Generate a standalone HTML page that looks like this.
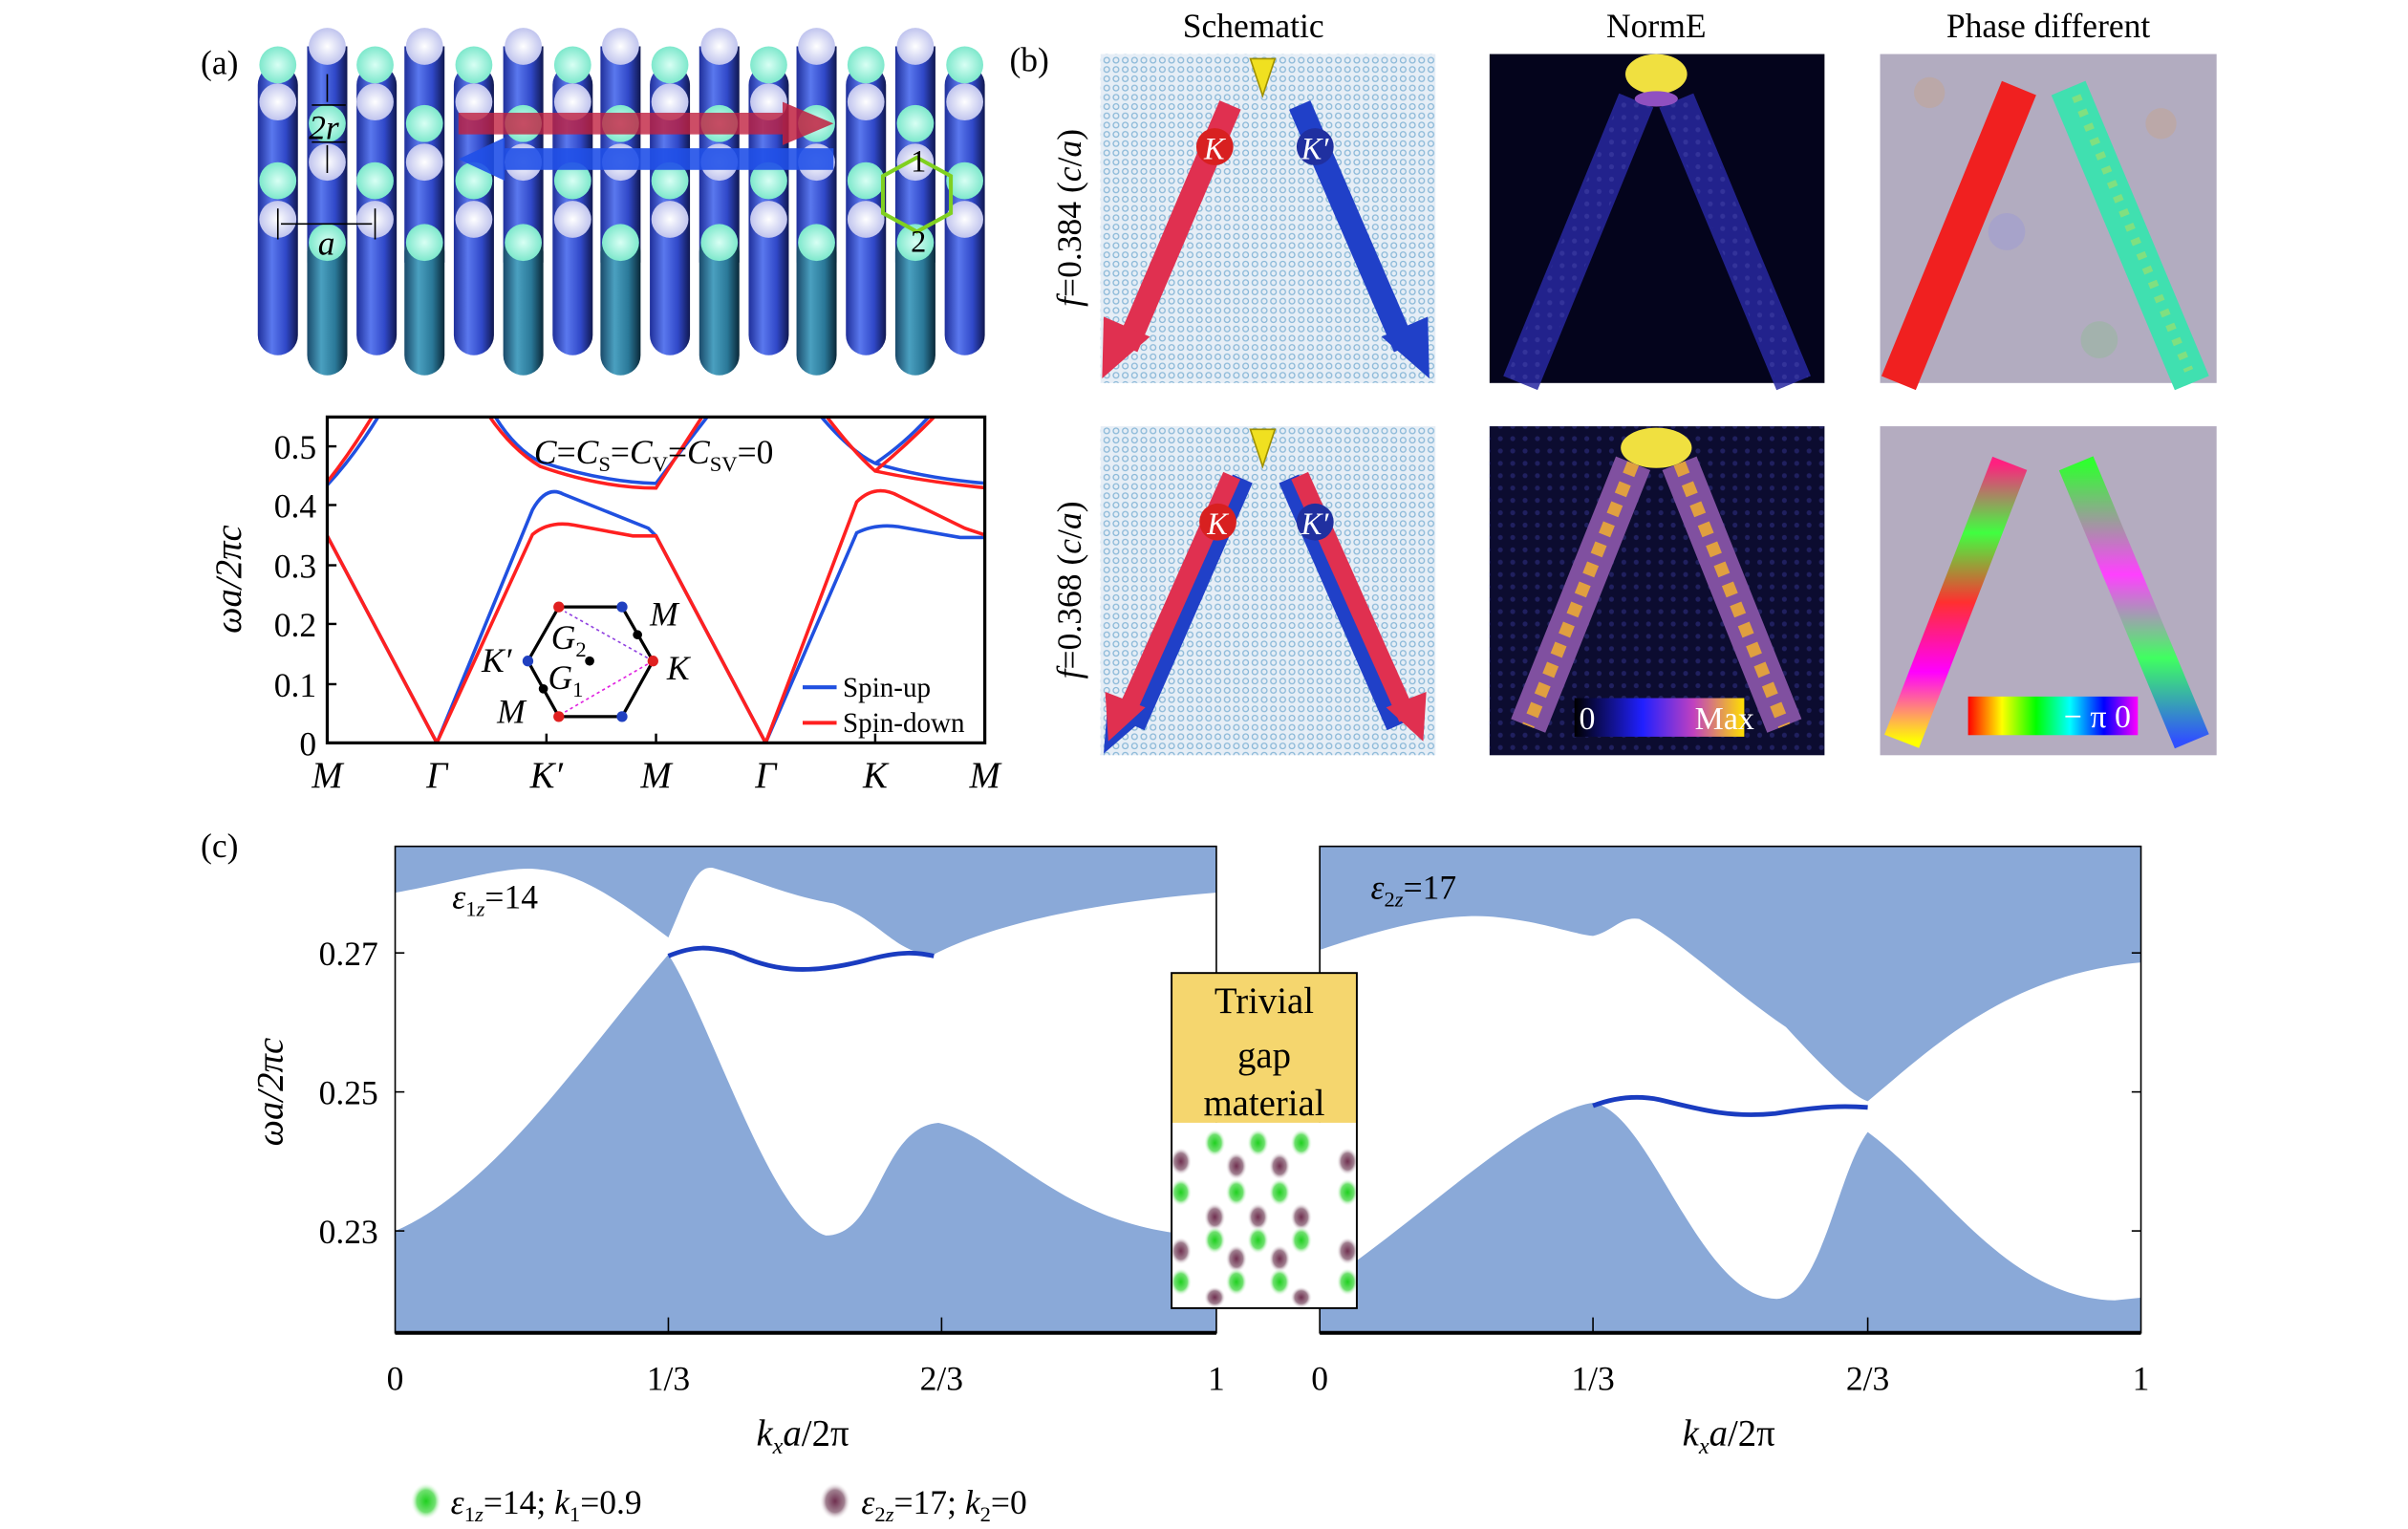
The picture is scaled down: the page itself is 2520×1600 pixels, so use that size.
<!DOCTYPE html>
<html><head><meta charset="utf-8"><style>html,body{margin:0;padding:0;background:#fff}svg{display:block}svg text{font-family:"Liberation Serif","DejaVu Serif",serif}</style></head><body>
<svg width="2520" height="1600" viewBox="0 0 1560 990" preserveAspectRatio="none" xmlns="http://www.w3.org/2000/svg" font-family="Liberation Serif, DejaVu Serif, serif">
<defs>
<linearGradient id="cyl" x1="0" x2="1"><stop offset="0" stop-color="#1f2f9a"/><stop offset="0.35" stop-color="#5a78ee"/><stop offset="0.7" stop-color="#3048c8"/><stop offset="1" stop-color="#101850"/></linearGradient>
<linearGradient id="cyl2" x1="0" x2="1"><stop offset="0" stop-color="#1a4a6a"/><stop offset="0.35" stop-color="#4aa0c0"/><stop offset="0.7" stop-color="#2a7898"/><stop offset="1" stop-color="#0a2838"/></linearGradient>
<radialGradient id="cy"><stop offset="0" stop-color="#d8fff4"/><stop offset="1" stop-color="#7ee8cc"/></radialGradient>
<radialGradient id="wh"><stop offset="0" stop-color="#ffffff"/><stop offset="1" stop-color="#c0c4ee"/></radialGradient>
<pattern id="lat" width="6" height="6" patternUnits="userSpaceOnUse"><rect width="6" height="6" fill="#e6eef6"/><circle cx="3" cy="3" r="1.8" fill="none" stroke="#8ab8d8" stroke-width="0.8"/></pattern>
<pattern id="dots" width="8" height="8" patternUnits="userSpaceOnUse"><circle cx="4" cy="4" r="1.6" fill="#3a3aa0" opacity="0.7"/></pattern>
<linearGradient id="ne" x1="0" x2="1"><stop offset="0" stop-color="#000"/><stop offset="0.4" stop-color="#2020ff"/><stop offset="0.7" stop-color="#c040c0"/><stop offset="1" stop-color="#ffe000"/></linearGradient>
<linearGradient id="ph" x1="0" x2="1"><stop offset="0" stop-color="#ff0000"/><stop offset="0.2" stop-color="#ffff00"/><stop offset="0.4" stop-color="#00ff00"/><stop offset="0.6" stop-color="#00ffff"/><stop offset="0.8" stop-color="#0000ff"/><stop offset="1" stop-color="#ff00ff"/></linearGradient>
<linearGradient id="rb" x1="0" y1="1" x2="0" y2="0"><stop offset="0" stop-color="#ffff00"/><stop offset="0.25" stop-color="#ff00ff"/><stop offset="0.5" stop-color="#ff3030"/><stop offset="0.75" stop-color="#40ff40"/><stop offset="1" stop-color="#ff2080"/></linearGradient>
<linearGradient id="rb2" x1="0" y1="1" x2="0" y2="0"><stop offset="0" stop-color="#3050ff"/><stop offset="0.3" stop-color="#40ff60"/><stop offset="0.6" stop-color="#ff40ff"/><stop offset="1" stop-color="#30ff30"/></linearGradient>
<radialGradient id="gd"><stop offset="0" stop-color="#20d020"/><stop offset="0.6" stop-color="#70e070"/><stop offset="1" stop-color="#fff" stop-opacity="0"/></radialGradient>
<radialGradient id="pd"><stop offset="0" stop-color="#703050"/><stop offset="0.6" stop-color="#a08090"/><stop offset="1" stop-color="#fff" stop-opacity="0"/></radialGradient>
</defs>

<!-- (a) cylinders -->
<text x="130" y="48" font-size="22">(a)</text>
<g>
<g fill="url(#cyl)">
<rect x="167" y="42" width="26" height="188" rx="13"/><rect x="231" y="42" width="26" height="188" rx="13"/><rect x="294" y="42" width="26" height="188" rx="13"/><rect x="358" y="42" width="26" height="188" rx="13"/><rect x="421" y="42" width="26" height="188" rx="13"/><rect x="485" y="42" width="26" height="188" rx="13"/><rect x="548" y="42" width="26" height="188" rx="13"/><rect x="612" y="42" width="26" height="188" rx="13"/>
<rect x="199" y="30" width="26" height="140"/><rect x="262" y="30" width="26" height="140"/><rect x="326" y="30" width="26" height="140"/><rect x="389" y="30" width="26" height="140"/><rect x="453" y="30" width="26" height="140"/><rect x="516" y="30" width="26" height="140"/><rect x="580" y="30" width="26" height="140"/>
</g>
<g fill="url(#cyl2)">
<rect x="199" y="150" width="26" height="93" rx="13"/><rect x="262" y="150" width="26" height="93" rx="13"/><rect x="326" y="150" width="26" height="93" rx="13"/><rect x="389" y="150" width="26" height="93" rx="13"/><rect x="453" y="150" width="26" height="93" rx="13"/><rect x="516" y="150" width="26" height="93" rx="13"/><rect x="580" y="150" width="26" height="93" rx="13"/>
</g>
<g fill="url(#cy)"><circle cx="180" cy="42" r="12"/><circle cx="243" cy="42" r="12"/><circle cx="307" cy="42" r="12"/><circle cx="371" cy="42" r="12"/><circle cx="434" cy="42" r="12"/><circle cx="498" cy="42" r="12"/><circle cx="561" cy="42" r="12"/><circle cx="625" cy="42" r="12"/>
<circle cx="180" cy="117" r="12"/><circle cx="243" cy="117" r="12"/><circle cx="307" cy="117" r="12"/><circle cx="371" cy="117" r="12"/><circle cx="434" cy="117" r="12"/><circle cx="498" cy="117" r="12"/><circle cx="561" cy="117" r="12"/><circle cx="625" cy="117" r="12"/>
<circle cx="212" cy="80" r="12"/><circle cx="275" cy="80" r="12"/><circle cx="339" cy="80" r="12"/><circle cx="402" cy="80" r="12"/><circle cx="466" cy="80" r="12"/><circle cx="529" cy="80" r="12"/><circle cx="593" cy="80" r="12"/>
<circle cx="212" cy="157" r="12"/><circle cx="275" cy="157" r="12"/><circle cx="339" cy="157" r="12"/><circle cx="402" cy="157" r="12"/><circle cx="466" cy="157" r="12"/><circle cx="529" cy="157" r="12"/><circle cx="593" cy="157" r="12"/></g>
<g fill="url(#wh)"><circle cx="180" cy="66" r="12"/><circle cx="243" cy="66" r="12"/><circle cx="307" cy="66" r="12"/><circle cx="371" cy="66" r="12"/><circle cx="434" cy="66" r="12"/><circle cx="498" cy="66" r="12"/><circle cx="561" cy="66" r="12"/><circle cx="625" cy="66" r="12"/>
<circle cx="180" cy="142" r="12"/><circle cx="243" cy="142" r="12"/><circle cx="307" cy="142" r="12"/><circle cx="371" cy="142" r="12"/><circle cx="434" cy="142" r="12"/><circle cx="498" cy="142" r="12"/><circle cx="561" cy="142" r="12"/><circle cx="625" cy="142" r="12"/>
<circle cx="212" cy="30" r="12"/><circle cx="275" cy="30" r="12"/><circle cx="339" cy="30" r="12"/><circle cx="402" cy="30" r="12"/><circle cx="466" cy="30" r="12"/><circle cx="529" cy="30" r="12"/><circle cx="593" cy="30" r="12"/>
<circle cx="212" cy="105" r="12"/><circle cx="275" cy="105" r="12"/><circle cx="339" cy="105" r="12"/><circle cx="402" cy="105" r="12"/><circle cx="466" cy="105" r="12"/><circle cx="529" cy="105" r="12"/><circle cx="593" cy="105" r="12"/></g>
</g>
<rect x="297" y="73" width="210" height="14" fill="#c02040" opacity="0.8"/><polygon points="507,66 540,80 507,94" fill="#c02040" opacity="0.85"/>
<rect x="327" y="96" width="213" height="14" fill="#2050e8" opacity="0.9"/><polygon points="327,89 297,103 327,117" fill="#2050e8" opacity="0.9"/>
<polygon points="594,102 616,114 616,138 594,150 572,138 572,114" fill="none" stroke="#80d020" stroke-width="2.5"/>
<text x="590" y="111" font-size="20">1</text><text x="590" y="163" font-size="20">2</text>
<line x1="212" y1="48" x2="212" y2="66" stroke="#000"/><line x1="202" y1="68" x2="224" y2="68" stroke="#000"/><line x1="202" y1="92" x2="224" y2="92" stroke="#000"/><line x1="212" y1="94" x2="212" y2="112" stroke="#000"/>
<text x="200" y="90" font-size="22" font-style="italic">2r</text>
<line x1="180" y1="135" x2="180" y2="155" stroke="#000"/><line x1="243" y1="135" x2="243" y2="155" stroke="#000"/><line x1="182" y1="145" x2="241" y2="145" stroke="#000"/>
<text x="206" y="165" font-size="22" font-style="italic">a</text>

<!-- (a) bands -->
<svg x="212" y="270" width="426" height="211" viewBox="212 270 426 211" overflow="hidden">
<g fill="none" stroke-width="2.2">
<path d="M212,314 Q230,295 248,265 M318,265 Q332,290 350,299 Q390,312 425,313 L462,265 M528,265 Q550,292 567,300 Q600,310 640,313 M567,300 Q588,286 606,265" stroke="#2050e0"/>
<path d="M212,312 Q228,292 244,265 M314,265 Q330,290 350,302 Q390,316 425,316 L458,265 M532,265 Q552,292 567,305 Q600,312 640,316 M567,305 Q590,286 610,265" stroke="#ff2020"/>
<path d="M212,347 L283,481 L345,330 Q354,314 365,320 L420,342 L425,347 L496,481 L555,345 Q567,339 582,341 L622,348 L640,348" stroke="#2050e0"/>
<path d="M212,347 L283,481 L345,346 Q356,337 372,340 L410,347 L425,347 L496,481 L555,325 Q567,313 582,321 L625,342 L640,347" stroke="#ff2020"/>
</g>
</svg>
<rect x="212" y="270" width="426" height="211" fill="none" stroke="#000" stroke-width="2"/>
<g stroke="#000" stroke-width="1.5"><line x1="212" y1="289" x2="218" y2="289"/><line x1="212" y1="327" x2="218" y2="327"/><line x1="212" y1="366" x2="218" y2="366"/><line x1="212" y1="404" x2="218" y2="404"/><line x1="212" y1="443" x2="218" y2="443"/>
<line x1="354" y1="481" x2="354" y2="475"/><line x1="425" y1="481" x2="425" y2="475"/><line x1="567" y1="481" x2="567" y2="475"/></g>
<g font-size="22" text-anchor="end"><text x="205" y="297">0.5</text><text x="205" y="335">0.4</text><text x="205" y="374">0.3</text><text x="205" y="412">0.2</text><text x="205" y="451">0.1</text><text x="205" y="489">0</text></g>
<g font-size="24" font-style="italic" text-anchor="middle"><text x="212" y="510">M</text><text x="283" y="510">Γ</text><text x="354" y="510">K′</text><text x="425" y="510">M</text><text x="496" y="510">Γ</text><text x="567" y="510">K</text><text x="638" y="510">M</text></g>
<text transform="translate(156,375) rotate(-90)" font-size="24" font-style="italic" text-anchor="middle">ωa/2πc</text>
<text x="346" y="300" font-size="22" font-style="italic">C<tspan font-style="normal">=</tspan>C<tspan font-size="14" font-style="normal" dy="5">S</tspan><tspan font-style="normal" dy="-5">=</tspan>C<tspan font-size="14" font-style="normal" dy="5">V</tspan><tspan font-style="normal" dy="-5">=</tspan>C<tspan font-size="14" font-style="normal" dy="5">SV</tspan><tspan font-style="normal" dy="-5">=0</tspan></text>
<line x1="520" y1="445" x2="542" y2="445" stroke="#2050e0" stroke-width="2.5"/><text x="546" y="451" font-size="18">Spin-up</text>
<line x1="520" y1="468" x2="542" y2="468" stroke="#ff2020" stroke-width="2.5"/><text x="546" y="474" font-size="18">Spin-down</text>
<polygon points="362,393 403,393 423,428 403,464 362,464 342,428" fill="none" stroke="#000" stroke-width="2"/>
<line x1="423" y1="428" x2="366" y2="396" stroke="#9040e0" stroke-dasharray="2,2"/><line x1="423" y1="428" x2="366" y2="461" stroke="#e020e0" stroke-dasharray="2,2"/>
<circle cx="362" cy="393" r="3.5" fill="#e02020"/><circle cx="423" cy="428" r="3.5" fill="#e02020"/><circle cx="362" cy="464" r="3.5" fill="#e02020"/>
<circle cx="403" cy="393" r="3.5" fill="#2040c0"/><circle cx="342" cy="428" r="3.5" fill="#2040c0"/><circle cx="403" cy="464" r="3.5" fill="#2040c0"/>
<circle cx="413" cy="411" r="3" fill="#000"/><circle cx="352" cy="446" r="3" fill="#000"/><circle cx="382" cy="428" r="3" fill="#000"/>
<g font-size="22" font-style="italic"><text x="421" y="405">M</text><text x="432" y="440">K</text><text x="312" y="435">K′</text><text x="322" y="468">M</text><text x="357" y="420">G<tspan font-size="14" font-style="normal" dy="5">2</tspan></text><text x="355" y="446">G<tspan font-size="14" font-style="normal" dy="5">1</tspan></text></g>

<!-- (b) -->
<text x="654" y="46" font-size="22">(b)</text>
<g font-size="22" text-anchor="middle"><text x="812" y="24">Schematic</text><text x="1073" y="24">NormE</text><text x="1327" y="24">Phase different</text></g>
<text transform="translate(700,141) rotate(-90)" font-size="22" text-anchor="middle"><tspan font-style="italic">f</tspan>=0.384 (<tspan font-style="italic">c</tspan>/<tspan font-style="italic">a</tspan>)</text>
<text transform="translate(700,382) rotate(-90)" font-size="22" text-anchor="middle"><tspan font-style="italic">f</tspan>=0.368 (<tspan font-style="italic">c</tspan>/<tspan font-style="italic">a</tspan>)</text>
<rect x="713" y="35" width="217" height="213" fill="url(#lat)"/>
<line x1="797" y1="68" x2="730" y2="225" stroke="#e03050" stroke-width="15"/><polygon points="714,245 715,205 745,218" fill="#e03050"/>
<line x1="842" y1="68" x2="910" y2="225" stroke="#2040c8" stroke-width="15"/><polygon points="926,245 925,205 895,218" fill="#2040c8"/>
<polygon points="810,38 826,38 818,62" fill="#f0e020" stroke="#a09000"/>
<circle cx="787" cy="95" r="12" fill="#d82020"/><circle cx="852" cy="95" r="12" fill="#2030a0"/>
<text x="780" y="103" font-size="20" font-style="italic" fill="#fff">K</text><text x="843" y="103" font-size="20" font-style="italic" fill="#fff">K′</text>
<rect x="713" y="276" width="217" height="213" fill="url(#lat)"/>
<line x1="805" y1="310" x2="735" y2="470" stroke="#2040c8" stroke-width="14"/><line x1="798" y1="308" x2="728" y2="465" stroke="#e03050" stroke-width="12"/><polygon points="715,488 718,450 745,462" fill="#2040c8"/><polygon points="718,480 716,448 742,458" fill="#e03050"/>
<line x1="835" y1="310" x2="905" y2="470" stroke="#2040c8" stroke-width="14"/><line x1="842" y1="308" x2="912" y2="465" stroke="#e03050" stroke-width="12"/><polygon points="922,480 924,448 898,458" fill="#e03050"/>
<polygon points="810,278 826,278 818,302" fill="#f0e020" stroke="#a09000"/>
<circle cx="789" cy="338" r="12" fill="#d82020"/><circle cx="852" cy="338" r="12" fill="#2030a0"/>
<text x="782" y="346" font-size="20" font-style="italic" fill="#fff">K</text><text x="843" y="346" font-size="20" font-style="italic" fill="#fff">K′</text>
<rect x="965" y="35" width="217" height="213" fill="#04041c"/>
<line x1="1060" y1="65" x2="985" y2="248" stroke="#2828a0" stroke-width="24" opacity="0.85"/><line x1="1086" y1="65" x2="1162" y2="248" stroke="#2828a0" stroke-width="24" opacity="0.85"/>
<line x1="1060" y1="65" x2="985" y2="248" stroke="url(#dots)" stroke-width="20"/><line x1="1086" y1="65" x2="1162" y2="248" stroke="url(#dots)" stroke-width="20"/>
<ellipse cx="1073" cy="48" rx="20" ry="13" fill="#f0e040"/><ellipse cx="1073" cy="64" rx="14" ry="5" fill="#9050c0"/>
<rect x="965" y="276" width="217" height="213" fill="#0c0c30"/>
<rect x="965" y="276" width="217" height="213" fill="url(#dots)" opacity="0.6"/>
<line x1="1058" y1="300" x2="990" y2="470" stroke="#8050a0" stroke-width="24"/><line x1="1088" y1="300" x2="1156" y2="470" stroke="#8050a0" stroke-width="24"/>
<line x1="1058" y1="300" x2="990" y2="470" stroke="#e0a040" stroke-width="8" stroke-dasharray="8,6"/><line x1="1088" y1="300" x2="1156" y2="470" stroke="#e0a040" stroke-width="8" stroke-dasharray="8,6"/>
<ellipse cx="1073" cy="290" rx="23" ry="13" fill="#f0e040"/>
<rect x="1020" y="452" width="110" height="25" fill="url(#ne)"/>
<text x="1023" y="472" font-size="21" fill="#fff">0</text><text x="1098" y="472" font-size="21" fill="#fff">Max</text>
<rect x="1218" y="35" width="218" height="213" fill="#b2acc0"/>
<g opacity="0.3"><circle cx="1250" cy="60" r="10" fill="#d0a070"/><circle cx="1300" cy="150" r="12" fill="#9090e0"/><circle cx="1400" cy="80" r="10" fill="#d0a070"/><circle cx="1360" cy="220" r="12" fill="#80c080"/></g>
<line x1="1308" y1="57" x2="1230" y2="248" stroke="#f02020" stroke-width="24"/>
<line x1="1340" y1="57" x2="1420" y2="248" stroke="#40e0b0" stroke-width="24"/>
<line x1="1345" y1="62" x2="1418" y2="240" stroke="#80e080" stroke-width="6" stroke-dasharray="4,6"/>
<rect x="1218" y="276" width="218" height="213" fill="#b4acc0"/>
<line x1="1302" y1="300" x2="1232" y2="480" stroke="url(#rb)" stroke-width="24"/>
<line x1="1345" y1="300" x2="1420" y2="480" stroke="url(#rb2)" stroke-width="24"/>
<rect x="1275" y="451" width="110" height="25" fill="url(#ph)"/>
<text x="1337" y="471" font-size="21" fill="#fff">− π 0</text>

<!-- (c) -->
<text x="130" y="555" font-size="22">(c)</text>
<svg x="256" y="548" width="532" height="315" viewBox="256 548 532 315">
<rect x="256" y="548" width="532" height="315" fill="#fff"/>
<path d="M256,548 L256,578 C300,570 330,560 350,563 C380,566 410,590 433,607 C445,580 450,560 462,562 C490,570 510,580 540,585 C570,595 580,618 605,618 C640,600 700,585 788,578 L788,548 Z" fill="#8aa9d8"/>
<path d="M256,863 L256,797 C320,770 380,680 433,618 C460,660 500,790 535,800 C570,800 570,730 608,727 C650,735 690,800 788,800 L788,863 Z" fill="#8aa9d8"/>
<path d="M433,619 C450,612 460,613 475,617 C500,628 520,632 560,622 C585,615 595,617 605,619" fill="none" stroke="#1a3cc0" stroke-width="3"/>
</svg>
<svg x="855" y="548" width="532" height="315" viewBox="855 548 532 315">
<rect x="855" y="548" width="532" height="315" fill="#fff"/>
<path d="M855,548 L855,615 C900,600 940,590 971,594 C1000,597 1020,605 1032,606 C1045,603 1050,593 1062,595 C1090,610 1120,640 1157,665 C1180,690 1200,710 1210,713 C1250,680 1300,630 1389,623 L1389,548 Z" fill="#8aa9d8"/>
<path d="M855,863 L855,833 C920,790 990,720 1032,714 C1070,720 1100,840 1151,841 C1180,840 1190,760 1210,733 C1260,770 1300,840 1370,842 L1389,840 L1389,863 Z" fill="#8aa9d8"/>
<path d="M1032,716 C1045,711 1060,709 1075,712 C1100,718 1120,724 1150,721 C1180,716 1195,716 1210,717" fill="none" stroke="#1a3cc0" stroke-width="3"/>
</svg>
<g stroke="#000"><rect x="256" y="548" width="532" height="315" fill="none" stroke-width="1"/><line x1="256" y1="863" x2="788" y2="863" stroke-width="2.5"/>
<rect x="855" y="548" width="532" height="315" fill="none" stroke-width="1"/><line x1="855" y1="863" x2="1387" y2="863" stroke-width="2.5"/>
<line x1="433" y1="863" x2="433" y2="853"/><line x1="610" y1="863" x2="610" y2="853"/><line x1="1032" y1="863" x2="1032" y2="853"/><line x1="1210" y1="863" x2="1210" y2="853"/>
<line x1="256" y1="617" x2="262" y2="617"/><line x1="256" y1="707" x2="262" y2="707"/><line x1="256" y1="797" x2="262" y2="797"/>
<line x1="1381" y1="617" x2="1387" y2="617"/><line x1="1381" y1="707" x2="1387" y2="707"/><line x1="1381" y1="797" x2="1387" y2="797"/></g>
<g font-size="22" text-anchor="end"><text x="245" y="625">0.27</text><text x="245" y="715">0.25</text><text x="245" y="805">0.23</text></g>
<g font-size="22" text-anchor="middle"><text x="256" y="900">0</text><text x="433" y="900">1/3</text><text x="610" y="900">2/3</text><text x="788" y="900">1</text><text x="855" y="900">0</text><text x="1032" y="900">1/3</text><text x="1210" y="900">2/3</text><text x="1387" y="900">1</text></g>
<text x="520" y="936" font-size="24" text-anchor="middle"><tspan font-style="italic">k</tspan><tspan font-size="15" font-style="italic" dy="5">x</tspan><tspan font-style="italic" dy="-5">a</tspan>/2π</text>
<text x="1120" y="936" font-size="24" text-anchor="middle"><tspan font-style="italic">k</tspan><tspan font-size="15" font-style="italic" dy="5">x</tspan><tspan font-style="italic" dy="-5">a</tspan>/2π</text>
<text transform="translate(183,707) rotate(-90)" font-size="24" font-style="italic" text-anchor="middle">ωa/2πc</text>
<text x="293" y="588" font-size="22"><tspan font-style="italic">ε</tspan><tspan font-size="14" dy="5">1<tspan font-style="italic">z</tspan></tspan><tspan dy="-5">=14</tspan></text>
<text x="888" y="582" font-size="22"><tspan font-style="italic">ε</tspan><tspan font-size="14" dy="5">2<tspan font-style="italic">z</tspan></tspan><tspan dy="-5">=17</tspan></text>
<rect x="759" y="630" width="120" height="97" fill="#f5d66e"/>
<rect x="759" y="727" width="120" height="120" fill="#fff"/>
<g>
<ellipse cx="787" cy="740" rx="7" ry="9" fill="url(#gd)"/><ellipse cx="815" cy="740" rx="7" ry="9" fill="url(#gd)"/><ellipse cx="843" cy="740" rx="7" ry="9" fill="url(#gd)"/>
<ellipse cx="765" cy="752" rx="7" ry="9" fill="url(#pd)"/><ellipse cx="801" cy="755" rx="7" ry="9" fill="url(#pd)"/><ellipse cx="829" cy="755" rx="7" ry="9" fill="url(#pd)"/><ellipse cx="873" cy="752" rx="7" ry="9" fill="url(#pd)"/>
<ellipse cx="765" cy="772" rx="7" ry="9" fill="url(#gd)"/><ellipse cx="801" cy="772" rx="7" ry="9" fill="url(#gd)"/><ellipse cx="829" cy="772" rx="7" ry="9" fill="url(#gd)"/><ellipse cx="873" cy="772" rx="7" ry="9" fill="url(#gd)"/>
<ellipse cx="787" cy="788" rx="7" ry="9" fill="url(#pd)"/><ellipse cx="815" cy="788" rx="7" ry="9" fill="url(#pd)"/><ellipse cx="843" cy="788" rx="7" ry="9" fill="url(#pd)"/>
<ellipse cx="787" cy="803" rx="7" ry="9" fill="url(#gd)"/><ellipse cx="815" cy="803" rx="7" ry="9" fill="url(#gd)"/><ellipse cx="843" cy="803" rx="7" ry="9" fill="url(#gd)"/>
<ellipse cx="765" cy="810" rx="7" ry="9" fill="url(#pd)"/><ellipse cx="801" cy="815" rx="7" ry="9" fill="url(#pd)"/><ellipse cx="829" cy="815" rx="7" ry="9" fill="url(#pd)"/><ellipse cx="873" cy="810" rx="7" ry="9" fill="url(#pd)"/>
<ellipse cx="765" cy="830" rx="7" ry="9" fill="url(#gd)"/><ellipse cx="801" cy="830" rx="7" ry="9" fill="url(#gd)"/><ellipse cx="829" cy="830" rx="7" ry="9" fill="url(#gd)"/><ellipse cx="873" cy="830" rx="7" ry="9" fill="url(#gd)"/>
<ellipse cx="787" cy="840" rx="7" ry="7" fill="url(#pd)"/><ellipse cx="843" cy="840" rx="7" ry="7" fill="url(#pd)"/>
</g>
<rect x="759" y="630" width="120" height="217" fill="none" stroke="#000" stroke-width="1.2"/>
<g font-size="24" text-anchor="middle"><text x="819" y="656">Trivial</text><text x="819" y="691">gap</text><text x="819" y="722">material</text></g>
<ellipse cx="276" cy="972" rx="10" ry="12" fill="url(#gd)"/>
<text x="292" y="980" font-size="22"><tspan font-style="italic">ε</tspan><tspan font-size="14" dy="5">1<tspan font-style="italic">z</tspan></tspan><tspan dy="-5">=14; </tspan><tspan font-style="italic">k</tspan><tspan font-size="14" dy="5">1</tspan><tspan dy="-5">=0.9</tspan></text>
<ellipse cx="541" cy="972" rx="10" ry="12" fill="url(#pd)"/>
<text x="558" y="980" font-size="22"><tspan font-style="italic">ε</tspan><tspan font-size="14" dy="5">2<tspan font-style="italic">z</tspan></tspan><tspan dy="-5">=17; </tspan><tspan font-style="italic">k</tspan><tspan font-size="14" dy="5">2</tspan><tspan dy="-5">=0</tspan></text>
</svg>
</body></html>
